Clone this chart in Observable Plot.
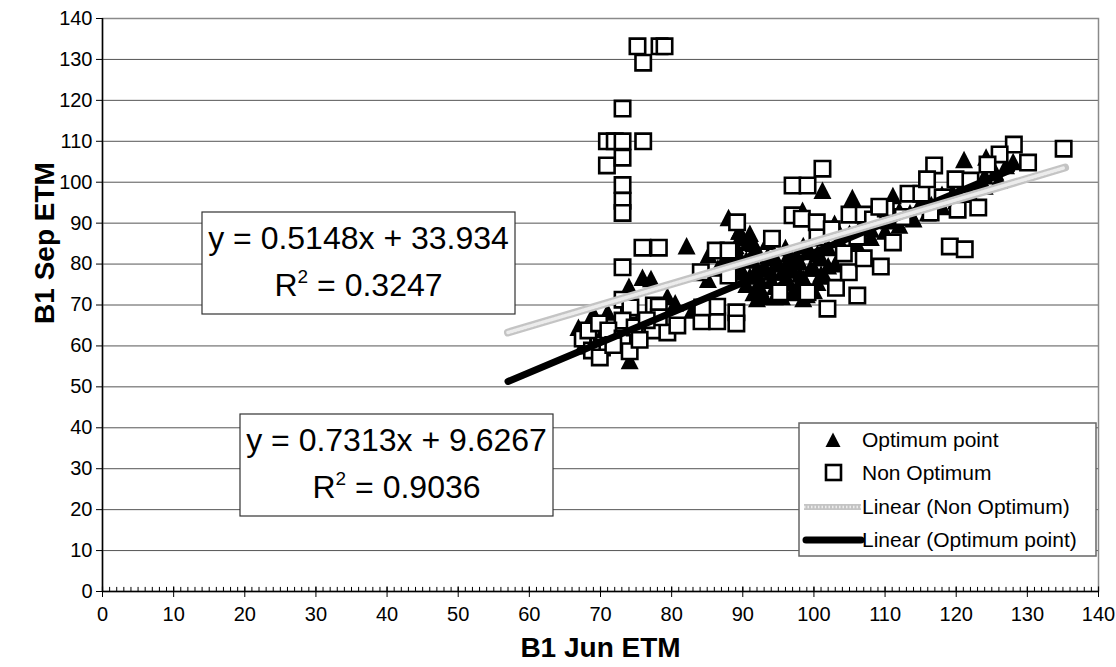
<!DOCTYPE html>
<html>
<head>
<meta charset="utf-8">
<script src="https://cdn.jsdelivr.net/npm/d3@7"></script>
<script src="https://cdn.jsdelivr.net/npm/@observablehq/plot@0.6"></script>
<style>
  html, body { margin: 0; padding: 0; background: #fff; }
  #chart { width: 1116px; height: 667px; }
  svg { font-family: "Liberation Sans", Arial, sans-serif; }
</style>
</head>
<body>
<div id="chart"></div>
<script>
// ---------------- DATA ----------------
const xTicks = [0, 10, 20, 30, 40, 50, 60, 70, 80, 90, 100, 110, 120, 130, 140];
const yTicks = [0, 10, 20, 30, 40, 50, 60, 70, 80, 90, 100, 110, 120, 130, 140];

// Optimum point (triangles): B1 Jun ETM / B1 Sep ETM
const optimumJun = [66.9, 69.0, 71.0, 74.1, 74.0, 75.9, 77.1, 79.4, 82.9, 82.1, 85.2, 85.1, 88.0, 89.5, 90.7, 91.8,
  98.4, 101.2, 105.4, 111.1, 121.1, 124.2, 102.9, 68.0, 70.5, 72.0, 67.5, 76.0, 80.5,
  88.5, 89.5, 90.0, 90.5, 91.0, 91.5, 92.0, 92.5, 93.0, 93.5, 94.0, 94.5, 95.0, 95.5, 96.0, 96.5, 97.0, 97.5,
  98.0, 98.5, 99.0, 99.5, 100.0, 100.5, 101.0, 101.5, 102.0, 103.0,
  89.0, 89.5, 90.0, 90.5, 91.0, 91.5, 92.0, 92.5, 93.0, 93.5, 94.0, 94.5, 95.0, 95.5, 96.0, 96.5, 97.0, 97.5,
  98.0, 98.5, 99.0, 99.5, 100.0, 100.5, 101.0, 102.0, 92.0, 94.5, 96.5, 98.5, 89.5, 91.0, 86.5, 87.5,
  103.5, 105.0, 106.5, 108.0, 109.0, 110.5, 112.0, 113.5, 115.0, 116.5, 118.0, 119.5, 121.0, 122.5, 124.0, 125.5, 127.0, 128.0,
  104.0, 106.0, 108.0, 110.0, 112.0, 114.0, 116.0, 118.0, 120.0, 122.0, 124.0, 126.0];
const optimumSep = [64.5, 67.9, 68.2, 56.4, 74.5, 76.7, 76.4, 72.1, 68.7, 84.4, 82.3, 76.2, 91.3, 88.0, 85.3, 84.0,
  93.1, 98.0, 96.2, 96.7, 105.5, 106.1, 89.9, 62.0, 64.0, 62.5, 60.0, 66.0, 70.5,
  80.0, 82.0, 78.0, 75.0, 81.0, 73.0, 79.0, 76.0, 72.0, 82.0, 78.0, 74.5, 80.0, 72.0, 76.5, 82.5, 78.5, 74.0,
  80.5, 76.5, 72.5, 83.0, 79.0, 75.5, 81.5, 77.0, 84.0, 80.0,
  84.5, 79.5, 86.5, 81.0, 77.0, 85.0, 82.5, 74.0, 79.5, 85.5, 76.0, 81.5, 73.5, 78.0, 84.0, 80.0, 73.0, 82.0,
  77.5, 84.5, 75.0, 79.0, 73.5, 82.5, 77.5, 79.5, 71.5, 72.0, 75.5, 71.5, 88.0, 87.5, 79.0, 81.5,
  86.0, 87.5, 89.0, 88.5, 91.0, 90.5, 93.0, 92.5, 95.0, 94.5, 97.0, 97.5, 99.5, 100.0, 101.5, 102.5, 104.0, 105.0,
  83.0, 85.0, 86.5, 88.0, 89.5, 91.0, 92.5, 94.0, 95.5, 97.0, 99.0, 100.5];

// Non Optimum (open squares)
const nonOptJun = [75.2, 76.0, 78.3, 79.0, 73.1, 70.9, 72.0, 73.1, 76.0, 70.9, 73.1, 73.1, 73.1, 73.1,
  75.9, 78.2, 73.1, 89.2, 94.1, 86.2, 88.0, 84.1, 88.0,
  74.0, 77.5, 73.1, 74.2, 78.2, 73.1, 67.5, 68.3, 69.8, 71.1, 70.2, 68.8, 69.9, 73.1, 74.1, 74.8, 77.3, 79.4, 78.2,
  84.2, 86.4, 86.4, 84.3, 89.1, 89.1, 71.8, 75.5, 76.5, 80.8,
  97.0, 99.1, 101.2, 105.0, 107.0, 97.0, 98.3, 100.4, 95.2, 99.1, 103.1, 106.1, 101.9, 104.2, 104.9, 107.0,
  100.5, 102.5, 112.5,
  128.1, 135.1, 130.1, 126.1, 124.4, 120.2, 123.1, 116.9, 119.9, 122.0, 113.3, 115.1, 115.9,
  108.3, 110.1, 106.1, 111.1, 109.4, 119.1, 121.2, 116.4, 118.1, 109.2];
const nonOptSep = [133.2, 129.2, 133.2, 133.2, 118.0, 110.0, 110.0, 110.0, 110.0, 104.1, 106.0, 99.3, 95.5, 92.5,
  84.0, 84.0, 79.2, 90.2, 86.2, 83.3, 83.3, 78.0, 77.2,
  68.7, 69.9, 71.3, 69.4, 69.6, 66.2, 61.8, 63.8, 65.5, 63.8, 59.6, 58.9, 57.2, 61.8, 58.7, 64.5, 63.8, 63.3, 67.0,
  66.0, 66.0, 69.6, 69.4, 68.2, 65.5, 60.2, 61.5, 66.3, 65.0,
  99.2, 99.2, 103.3, 92.1, 92.1, 91.9, 91.1, 90.2, 73.1, 73.1, 74.2, 72.3, 69.1, 82.6, 78.0, 81.4,
  86.5, 88.5, 91.5,
  109.2, 108.2, 104.8, 106.8, 104.3, 93.3, 93.8, 104.1, 100.7, 100.4, 97.2, 97.2, 100.7,
  90.9, 93.6, 86.7, 85.3, 79.4, 84.3, 83.6, 92.6, 96.3, 94.0];

// Trendlines (Excel linear fits, as printed on the chart) and their x-extent
const nonOptFit = { slope: 0.5148, intercept: 33.934, r2: 0.3247 };
const optFit = { slope: 0.7313, intercept: 9.6267, r2: 0.9036 };
const nonOptTrendJun = [57, 135.3];
const optTrendJun = [57, 127.8];

const seriesNames = ["Optimum point", "Non Optimum", "Linear (Non Optimum)", "Linear (Optimum point)"];
const axisTitles = { x: "B1 Jun ETM", y: "B1 Sep ETM" };

// ---------------- BUILD ----------------
const optimum = optimumJun.map((x, i) => ({ x, y: optimumSep[i] }));
const nonOpt = nonOptJun.map((x, i) => ({ x, y: nonOptSep[i] }));
const trendPts = (xs, f) => xs.map(x => ({ x, y: f.slope * x + f.intercept }));
const nonOptTrend = trendPts(nonOptTrendJun, nonOptFit);
const optTrend = trendPts(optTrendJun, optFit);
const minorTicks = d3.range(0, 141, 1);

const triSymbol = { draw(ctx) { ctx.moveTo(0, -9); ctx.lineTo(9, 8.5); ctx.lineTo(-9, 8.5); ctx.closePath(); } };
const sqSymbol = { draw(ctx) { const h = 7.7; ctx.moveTo(-h, -h); ctx.lineTo(h, -h); ctx.lineTo(h, h); ctx.lineTo(-h, h); ctx.closePath(); } };

const chart = Plot.plot({
  width: 1116,
  height: 667,
  marginLeft: 102,
  marginRight: 18,
  marginTop: 18,
  marginBottom: 76,
  style: { fontFamily: "'Liberation Sans', Arial, sans-serif", fontSize: "20px", color: "#000", background: "#fff" },
  x: { domain: [0, 140] },
  y: { domain: [0, 140] },
  marks: [
    Plot.gridY(yTicks, { stroke: "#555", strokeOpacity: 1, strokeWidth: 1 }),
    Plot.frame({ stroke: "#8a8a8a", strokeWidth: 1.5 }),
    Plot.ruleY([0], { stroke: "#000", strokeWidth: 1.5 }),
    Plot.ruleX([0], { stroke: "#000", strokeWidth: 1.5 }),
    Plot.ruleX(minorTicks, { x: d => d, y1: 0, y2: 1, stroke: "#000", strokeWidth: 1 }),
    Plot.axisY(yTicks, { tickSize: 6, tickPadding: 4, fontSize: 20, label: null, stroke: "#000" }),
    Plot.axisX(xTicks, { tickSize: 6, tickPadding: 9, fontSize: 20, label: null, stroke: "#000" }),
    Plot.ruleX(xTicks, { x: d => d, y1: 0, y2: 1.1, stroke: "#000", strokeWidth: 1.2 }),
    Plot.dot(optimum, { x: "x", y: "y", symbol: triSymbol, fill: "#000", stroke: "none" }),
    Plot.dot(nonOpt, { x: "x", y: "y", symbol: sqSymbol, fill: "#fff", stroke: "#000", strokeWidth: 2.6 }),
    Plot.line(optTrend, { x: "x", y: "y", stroke: "#000", strokeWidth: 7, strokeLinecap: "round" }),
    Plot.line(nonOptTrend, { x: "x", y: "y", stroke: "#c4c4c4", strokeWidth: 8 }),
    Plot.line(nonOptTrend, { x: "x", y: "y", stroke: "#ececec", strokeWidth: 3.5, strokeDasharray: "1.5 2" }),
    Plot.text([axisTitles.x], { frameAnchor: "bottom", textAnchor: "middle", lineAnchor: "middle", dy: 57, fontSize: 28, fontWeight: "bold", fill: "#000" }),
    Plot.text([axisTitles.y], { frameAnchor: "left", textAnchor: "middle", lineAnchor: "middle", dx: -57, dy: -62, rotate: -90, fontSize: 28, fontWeight: "bold", fill: "#000" })
  ]
});

document.getElementById("chart").appendChild(chart);

// ---------------- ANNOTATIONS (equation boxes, legend) ----------------
const svg = d3.select(chart);
const ann = svg.append("g").attr("font-family", "'Liberation Sans', Arial, sans-serif").attr("fill", "#000");

function eqBox(box, fit) {
  const g = ann.append("g");
  g.append("rect").attr("x", box.x).attr("y", box.y).attr("width", box.w).attr("height", box.h)
    .attr("fill", "#fff").attr("stroke", "#333").attr("stroke-width", 1.2);
  const cx = box.x + box.w / 2;
  const sign = fit.intercept >= 0 ? "+" : "-";
  g.append("text").attr("x", cx).attr("y", box.y + 37).attr("text-anchor", "middle").attr("font-size", 32)
    .text(`y = ${fit.slope}x ${sign} ${Math.abs(fit.intercept)}`);
  const t = g.append("text").attr("x", cx).attr("y", box.y + 84).attr("text-anchor", "middle").attr("font-size", 32);
  t.append("tspan").text("R");
  t.append("tspan").attr("font-size", 19).attr("dy", -13).text("2");
  t.append("tspan").attr("dy", 13).text(` = ${fit.r2.toFixed(4)}`);
}
eqBox({ x: 202, y: 212, w: 313, h: 102 }, nonOptFit);
eqBox({ x: 240, y: 414, w: 313, h: 102 }, optFit);

// Legend
const lg = ann.append("g");
lg.append("rect").attr("x", 799).attr("y", 423).attr("width", 297).attr("height", 133)
  .attr("fill", "#fff").attr("stroke", "#666").attr("stroke-width", 1.5);
const rowY = [440, 473, 507, 540];
lg.append("path").attr("transform", `translate(833,${rowY[0]})`).attr("d", "M0,-7.5L7.5,7L-7.5,7Z").attr("fill", "#000");
lg.append("rect").attr("x", 826).attr("y", rowY[1] - 8).attr("width", 15).attr("height", 15)
  .attr("fill", "#fff").attr("stroke", "#000").attr("stroke-width", 2.6);
lg.append("line").attr("x1", 804).attr("x2", 861).attr("y1", rowY[2]).attr("y2", rowY[2]).attr("stroke", "#c4c4c4").attr("stroke-width", 6);
lg.append("line").attr("x1", 804).attr("x2", 861).attr("y1", rowY[2]).attr("y2", rowY[2]).attr("stroke", "#ececec").attr("stroke-width", 2.5).attr("stroke-dasharray", "1.5 2");
lg.append("line").attr("x1", 806).attr("x2", 861).attr("y1", rowY[3]).attr("y2", rowY[3]).attr("stroke", "#000").attr("stroke-width", 7).attr("stroke-linecap", "round");
seriesNames.forEach((name, i) => {
  lg.append("text").attr("x", 862).attr("y", rowY[i] + 7).attr("text-anchor", "start").attr("font-size", 21).text(name);
});
</script>
</body>
</html>
